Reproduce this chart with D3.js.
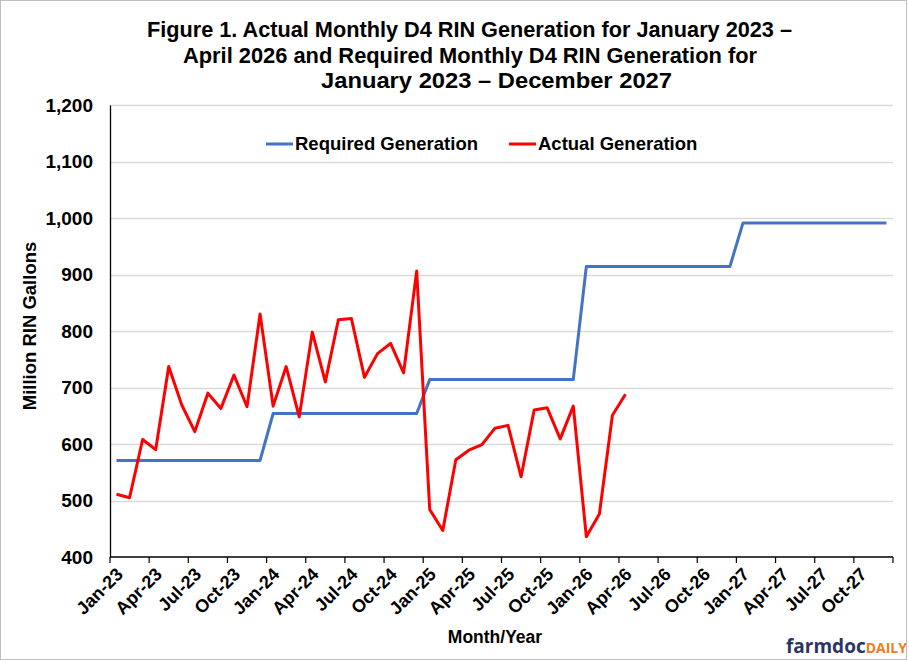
<!DOCTYPE html>
<html>
<head>
<meta charset="utf-8">
<script src="https://cdn.jsdelivr.net/npm/d3@7"></script>
<style>
  html, body { margin: 0; padding: 0; background: #fff; }
  svg { display: block; font-family: "Liberation Sans", Arial, sans-serif; }
</style>
</head>
<body>
<svg id="chart" width="909" height="661"></svg>
<script>
// ---- Data ----
const months = [
  "Jan-23","Feb-23","Mar-23","Apr-23","May-23","Jun-23","Jul-23","Aug-23","Sep-23","Oct-23","Nov-23","Dec-23",
  "Jan-24","Feb-24","Mar-24","Apr-24","May-24","Jun-24","Jul-24","Aug-24","Sep-24","Oct-24","Nov-24","Dec-24",
  "Jan-25","Feb-25","Mar-25","Apr-25","May-25","Jun-25","Jul-25","Aug-25","Sep-25","Oct-25","Nov-25","Dec-25",
  "Jan-26","Feb-26","Mar-26","Apr-26","May-26","Jun-26","Jul-26","Aug-26","Sep-26","Oct-26","Nov-26","Dec-26",
  "Jan-27","Feb-27","Mar-27","Apr-27","May-27","Jun-27","Jul-27","Aug-27","Sep-27","Oct-27","Nov-27","Dec-27"
];
const requiredGeneration = [
  571,571,571,571,571,571,571,571,571,571,571,571,
  654,654,654,654,654,654,654,654,654,654,654,654,
  714,714,714,714,714,714,714,714,714,714,714,714,
  914,914,914,914,914,914,914,914,914,914,914,914,
  991,991,991,991,991,991,991,991,991,991,991,991
];
const actualGeneration = [
  511,505,608,590,737,669,622,690,663,722,666,830,
  667,737,648,798,710,820,822,718,760,778,726,906,
  484,447,572,589,599,628,633,542,660,664,609,667,
  436,476,651,688
];
const xTickLabels = ["Jan-23","Apr-23","Jul-23","Oct-23","Jan-24","Apr-24","Jul-24","Oct-24",
  "Jan-25","Apr-25","Jul-25","Oct-25","Jan-26","Apr-26","Jul-26","Oct-26",
  "Jan-27","Apr-27","Jul-27","Oct-27"];
const yTicks = [400,500,600,700,800,900,1000,1100,1200];
const titleLines = [
  "Figure 1. Actual Monthly D4 RIN Generation for January 2023 \u2013",
  "April 2026 and Required Monthly D4 RIN Generation for",
  "January 2023 \u2013 December 2027"
];
const seriesNames = ["Required Generation", "Actual Generation"];

// ---- Layout ----
const svg = d3.select("#chart");
const plotL = 110, plotR = 893, plotT = 105, plotB = 557;

const x = d3.scaleBand().domain(months).range([plotL, plotR]).paddingInner(0).paddingOuter(0);
const y = d3.scaleLinear().domain([400, 1200]).range([plotB, plotT]);
const cx = m => x(m) + x.bandwidth() / 2;

// outer border
svg.append("rect").attr("x", 0.5).attr("y", 0.5).attr("width", 906).attr("height", 659)
  .attr("fill", "#fff").attr("stroke", "#bfbfbf").attr("stroke-width", 1);

// gridlines
svg.append("g").selectAll("line").data(yTicks.filter(d => d > 400)).join("line")
  .attr("x1", plotL).attr("x2", plotR)
  .attr("y1", d => Math.round(y(d)) + 0.5).attr("y2", d => Math.round(y(d)) + 0.5)
  .attr("stroke", "#d9d9d9").attr("stroke-width", 1.3);

// y axis
const yAxis = d3.axisLeft(y).tickValues(yTicks).tickSize(0).tickPadding(17).tickFormat(d3.format(","));
const gy = svg.append("g").attr("transform", `translate(${plotL},0)`).call(yAxis);
gy.select(".domain").attr("stroke", "#000").attr("stroke-width", 1.3);
gy.selectAll("text").attr("font-size", 19).attr("font-weight", "bold").attr("fill", "#000")
  .attr("font-family", "'Liberation Sans', Arial, sans-serif");

// x axis
const tickBoundaries = d3.range(0, months.length + 1, 3).map(i => plotL + i * x.bandwidth());
svg.append("line").attr("x1", plotL).attr("x2", plotR).attr("y1", plotB).attr("y2", plotB)
  .attr("stroke", "#000").attr("stroke-width", 1.3);
svg.append("g").selectAll("line").data(tickBoundaries).join("line")
  .attr("x1", d => d).attr("x2", d => d).attr("y1", plotB).attr("y2", plotB + 6)
  .attr("stroke", "#000").attr("stroke-width", 1.2);
svg.append("g").selectAll("text").data(xTickLabels).join("text")
  .attr("transform", d => `translate(${cx(d) + 3},${plotB + 14}) rotate(-45)`)
  .attr("text-anchor", "end").attr("dy", "0.35em")
  .attr("font-size", 18).attr("font-weight", "bold").attr("fill", "#000")
  .text(d => d);

// lines
const line = d3.line().x((d, i) => cx(months[i])).y(d => y(d));
svg.append("path").datum(requiredGeneration).attr("d", line)
  .attr("fill", "none").attr("stroke", "#4472c4").attr("stroke-width", 3).attr("stroke-linejoin", "round");
svg.append("path").datum(actualGeneration).attr("d", line)
  .attr("fill", "none").attr("stroke", "#ff0000").attr("stroke-width", 3).attr("stroke-linejoin", "round");

// title
const titleX = [147, 183, 321];
const titleW = [645, 574, 351];
svg.append("g").selectAll("text").data(titleLines).join("text")
  .attr("x", (d, i) => titleX[i]).attr("y", (d, i) => 37 + i * 25.5)
  .attr("textLength", (d, i) => titleW[i]).attr("lengthAdjust", "spacingAndGlyphs")
  .attr("font-size", 22).attr("font-weight", "bold").attr("fill", "#000")
  .text(d => d);

// legend
const legend = [
  { name: seriesNames[0], color: "#4472c4", x: 266 },
  { name: seriesNames[1], color: "#ff0000", x: 509 }
];
const lg = svg.append("g").selectAll("g").data(legend).join("g")
  .attr("transform", d => `translate(${d.x},144)`);
lg.append("line").attr("x1", 0).attr("x2", 27).attr("stroke", d => d.color).attr("stroke-width", 3);
lg.append("text").attr("x", 29).attr("dy", "0.35em").attr("font-size", 18.5).attr("font-weight", "bold")
  .attr("fill", "#000").text(d => d.name);

// axis titles
svg.append("text").attr("transform", "translate(36,326) rotate(-90)")
  .attr("text-anchor", "middle").attr("font-size", 18.5).attr("font-weight", "bold").text("Million RIN Gallons");
svg.append("text").attr("x", 495).attr("y", 643)
  .attr("text-anchor", "middle").attr("font-size", 17.5).attr("font-weight", "bold").text("Month/Year");

// logo
const logo = svg.append("text").attr("x", 786).attr("y", 653).attr("font-family", "'Open Sans', 'DejaVu Sans', sans-serif")
  .attr("font-weight", "bold");
logo.append("tspan").attr("fill", "#2b3563").attr("font-size", 19).text("farmdoc");
logo.append("tspan").attr("fill", "#f47b20").attr("font-size", 14).text("DAILY");
</script>
</body>
</html>
